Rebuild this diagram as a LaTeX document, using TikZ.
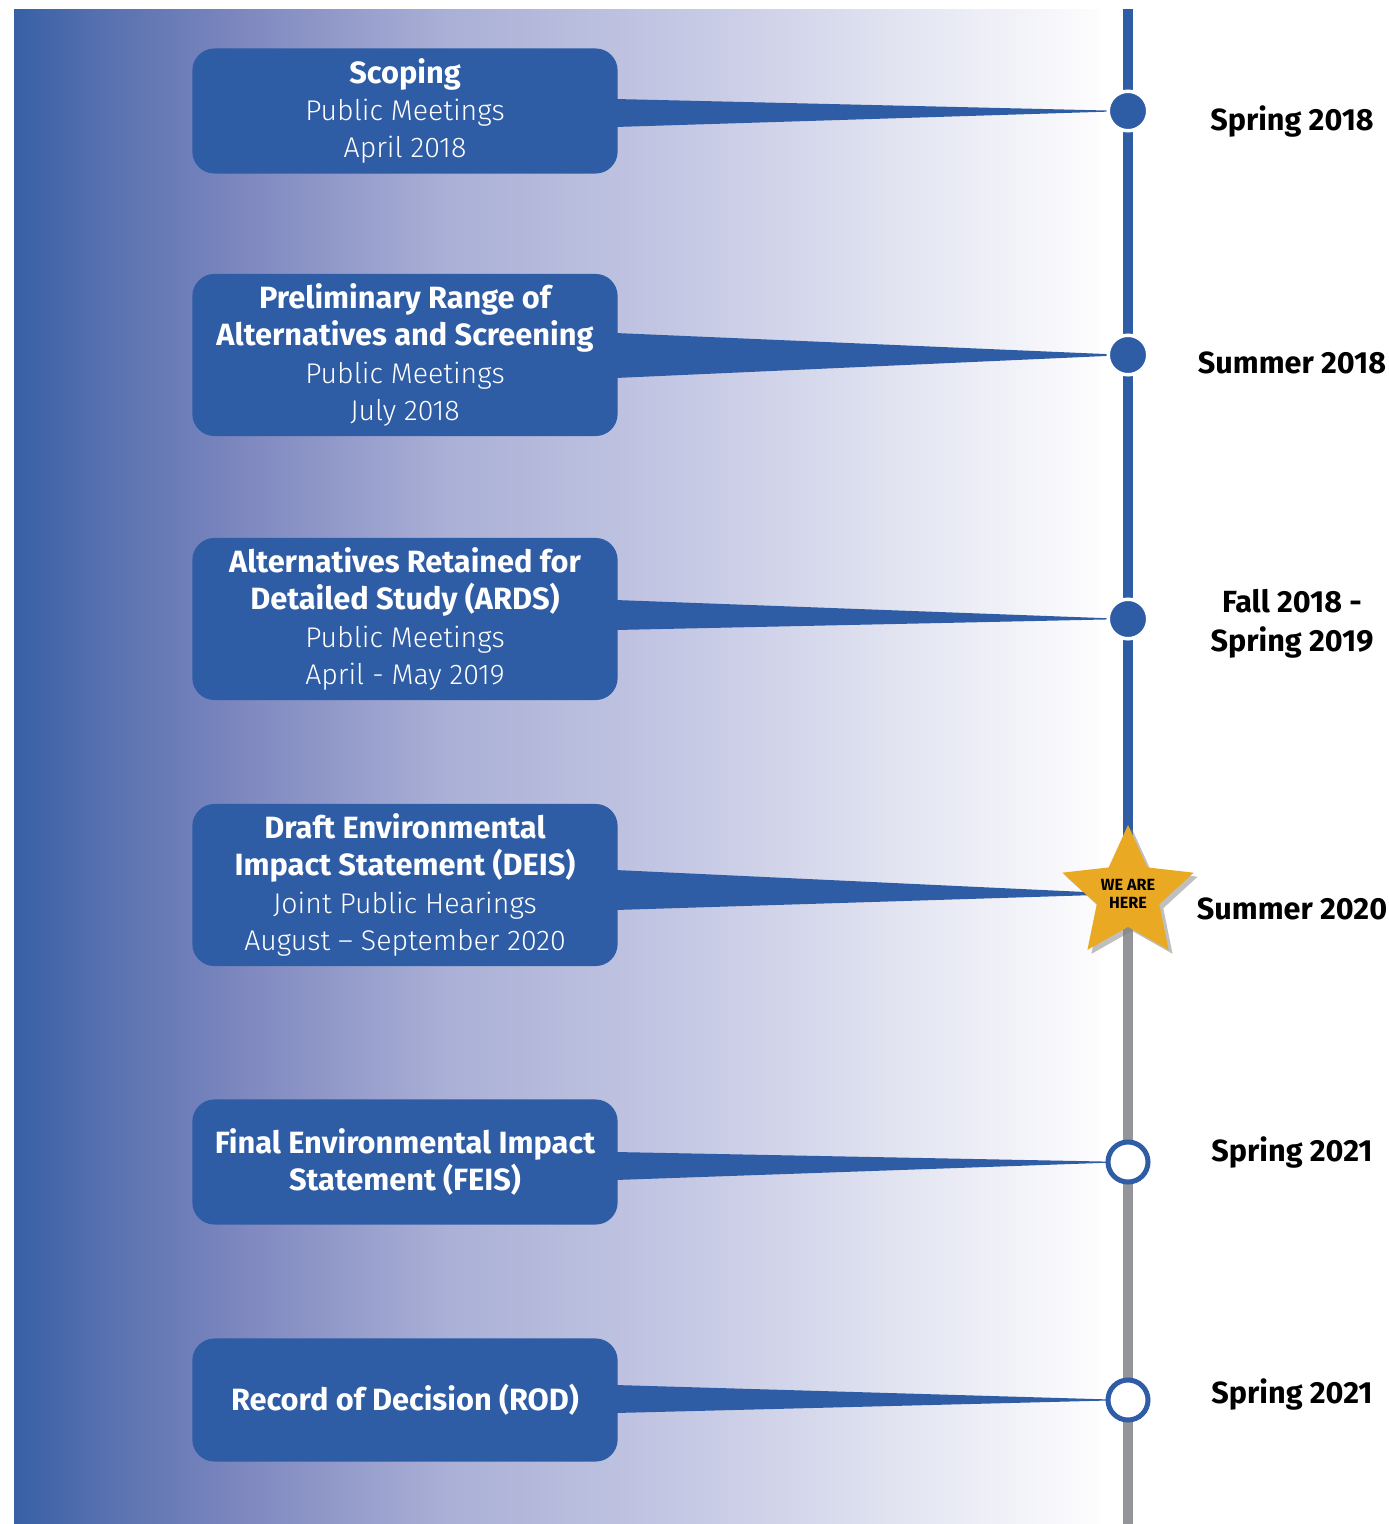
\documentclass[tikz,border=0pt]{standalone}
\usepackage{fontspec}
\setmainfont{Fira Sans}
\newfontfamily\lightfont{Fira Sans Light}[Ligatures=TeX]
\usetikzlibrary{
  shapes.geometric,
  positioning,
  calc,
  backgrounds,
  shadows
}
\definecolor{tlBlue}{HTML}{2E5CA5}
\definecolor{tlGray}{HTML}{939598}
\definecolor{tlGold}{HTML}{E9A923}
\definecolor{fadeA}{HTML}{3760A6}
\definecolor{fadeB}{HTML}{5670AF}
\definecolor{fadeC}{HTML}{8089C0}
\definecolor{fadeD}{HTML}{AAB0D6}
\definecolor{fadeE}{HTML}{C7CAE5}
\definecolor{fadeF}{HTML}{E2E4F1}
\definecolor{fadeG}{HTML}{FDFDFE}
\pgfdeclarehorizontalshading{bgfade}{100bp}{
  color(0bp)=(fadeA); color(25bp)=(fadeA); color(29bp)=(fadeB);
  color(35.9bp)=(fadeC); color(45bp)=(fadeD); color(56.6bp)=(fadeE);
  color(65.8bp)=(fadeF); color(75bp)=(fadeG); color(100bp)=(fadeG)}
\newcommand{\sub}[1]{{\lightfont\mdseries\fontsize{8.1}{10.6}\selectfont #1}}
\tikzset{
  stage/.style={
    fill=tlBlue, rounded corners=0.22cm, minimum width=4.25cm, minimum height=1.25cm,
    text=white, align=center, inner sep=0pt, font=\bfseries\fontsize{8.75}{10.6}\selectfont
  },
  tallstage/.style={stage, minimum height=1.62cm},
  done/.style={circle, fill=tlBlue, draw=white, line width=0.035cm, minimum size=0.395cm, inner sep=0pt},
  todo/.style={circle, fill=white, draw=tlBlue, line width=0.05cm, minimum size=0.40cm, inner sep=0pt},
  herestar/.style={
    star, star points=5, star point ratio=2.1, minimum size=1.38cm, inner sep=0pt,
    fill=tlGold, drop shadow={shadow xshift=0.04cm, shadow yshift=-0.04cm, opacity=0.5}
  },
  heretext/.style={font=\bfseries\fontsize{4.6}{5.2}\selectfont, align=center, inner sep=0pt},
  wedge/.style={fill=tlBlue},
  spine/.style={line width=0.1cm},
  when/.style={font=\bfseries\fontsize{8.7}{11.2}\selectfont, align=center, inner sep=0pt}
}
\begin{document}
\begin{tikzpicture}[x=0.01cm, y=-0.01cm]
  \useasboundingbox (0,0) rectangle (1389,1524);

  % stages
  \node[stage] (scope) at (405,111) {Scoping\\ \sub{Public Meetings}\\ \sub{April 2018}};
  \node[tallstage] (range) at (405,355) {Preliminary Range of\\ Alternatives and Screening\\ \sub{Public Meetings}\\ \sub{July 2018}};
  \node[tallstage] (ards) at (405,619) {Alternatives Retained for\\ Detailed Study (ARDS)\\ \sub{Public Meetings}\\ \sub{April - May 2019}};
  \node[tallstage] (deis) at (405,885) {Draft Environmental\\ Impact Statement (DEIS)\\ \sub{Joint Public Hearings}\\ \sub{August – September 2020}};
  \node[stage] (feis) at (405,1162) {Final Environmental Impact\\ Statement (FEIS)};
  \node[stage, minimum height=1.23cm] (rod) at (405,1400) {Record of Decision (ROD)};

  % milestones on the spine
  \coordinate (top) at (1128,9);
  \coordinate (bottom) at (1128,1524);
  \node[done] (m1) at (1128,111) {};
  \node[done] (m2) at (1128,355) {};
  \node[done] (m3) at (1128,619) {};
  \node[herestar] (here) at (1128,894) {};
  \node[heretext] at (here) {WE ARE\\HERE};
  \node[todo] (m5) at (1128,1162) {};
  \node[todo] (m6) at (1128,1400) {};

  % dates
  \node[when] (d1) at (1292,121) {Spring 2018};
  \node[when] (d2) at (1292,363) {Summer 2018};
  \node[when] (d3) at (1292,624) {Fall 2018 -\\Spring 2019};
  \node[when] (d4) at (1292,909) {Summer 2020};
  \node[when] (d5) at (1292,1152) {Spring 2021};
  \node[when] (d6) at (1292,1394) {Spring 2021};

  \begin{pgfonlayer}{background}
    \shade[shading=bgfade] (14,9) rectangle (1100,1524);
    \draw[spine, tlBlue] (top) -- (here.center);
    \draw[spine, tlGray] (here.center) -- (bottom);
    \fill[wedge] ($(scope.east)+(-3,-12)$) -- (m1.center) -- ($(scope.east)+(-3,16)$) -- cycle;
    \fill[wedge] ($(range.east)+(-3,-22)$) -- (m2.center) -- ($(range.east)+(-3,23)$) -- cycle;
    \fill[wedge] ($(ards.east)+(-3,-19)$) -- (m3.center) -- ($(ards.east)+(-3,11)$) -- cycle;
    \fill[wedge] ($(deis.east)+(-3,-15)$) -- (here.center) -- ($(deis.east)+(-3,25)$) -- cycle;
    \fill[wedge] ($(feis.east)+(-3,-10)$) -- (m5.center) -- ($(feis.east)+(-3,18)$) -- cycle;
    \fill[wedge] ($(rod.east)+(-3,-15)$) -- (m6.center) -- ($(rod.east)+(-3,13)$) -- cycle;
  \end{pgfonlayer}
\end{tikzpicture}
\end{document}
